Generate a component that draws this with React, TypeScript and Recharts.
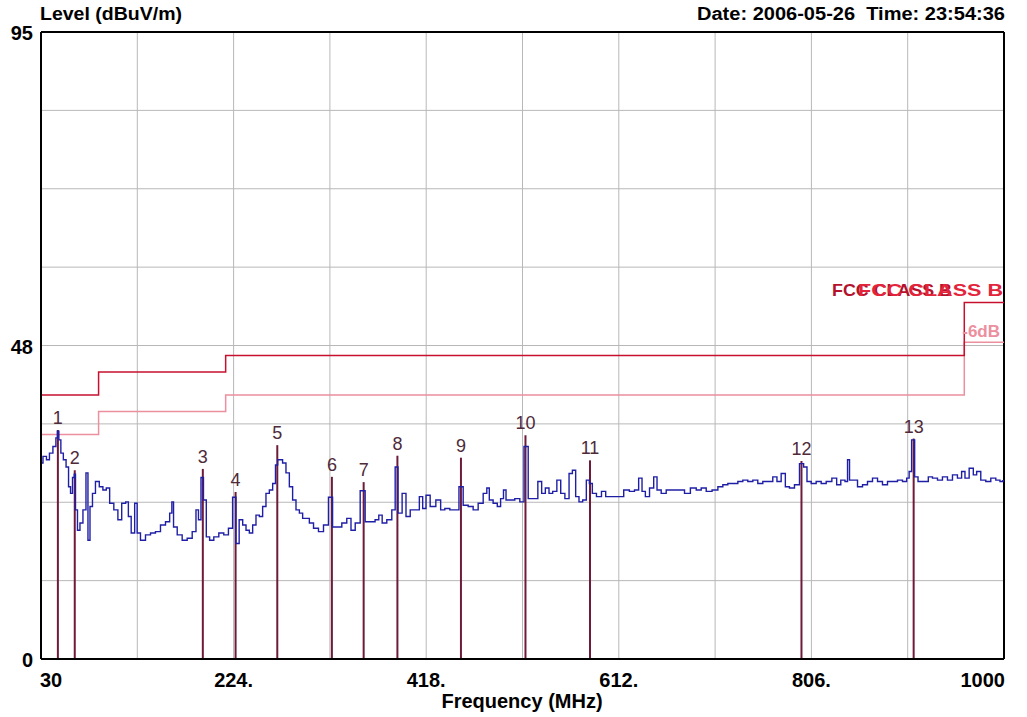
import React from 'react';
import { LineChart, Line, XAxis, YAxis, CartesianGrid, ReferenceLine, ReferenceDot } from 'recharts';

// scan trace (MHz / dBuV/m)
const traceFreq = [
  30, 34, 37, 40, 44, 46, 47, 49, 51, 54, 56.5, 59, 60.5, 63, 64, 65.5, 68, 70.5, 74, 76.6,
  78, 80.7, 83, 86.7, 90.7, 94, 97.5, 100.8, 105.9, 109, 113.6, 117, 119, 122.7, 126, 127.7,
  132.7, 137.8, 142.8, 147.8, 152.9, 157.9, 161.3, 162.3, 164.7, 169.7, 174.7, 179.8, 184.8,
  187.4, 189.8, 192.5, 194.8, 198.2, 201.5, 206.6, 211.6, 216.6, 221, 225, 227.7, 231.5,
  234.8, 238.2, 241.5, 244.9, 248.2, 251.6, 254.9, 258.3, 261.7, 265, 267.4, 269.4, 271.7,
  275, 278.5, 281.8, 285.1, 288.6, 291.9, 295.2, 298.6, 302, 307, 312, 317.1, 322, 325.4,
  330.5, 335.5, 340.5, 344, 349, 354, 359, 364, 369, 371.5, 375.8, 380.8, 385.9, 387.6,
  391.6, 395.9, 399.4, 404.4, 409.4, 412.8, 416.1, 419.5, 424.5, 430.9, 434.2, 439.3, 444.3,
  449.3, 452.7, 457.8, 462.8, 467.8, 472.9, 477.9, 480.2, 482.9, 487.9, 491.3, 494.6, 497.1,
  499.7, 504.7, 509.8, 514.8, 518.2, 523.3, 528.3, 532.6, 536, 540, 543.4, 547.4, 551.8,
  555.2, 560.2, 563.6, 566.9, 570.2, 573.6, 577.6, 581, 583.7, 587, 592, 597.1, 600.5, 607.2,
  613.9, 620, 625.3, 630.3, 633.7, 637.1, 640.4, 645.5, 648.8, 652.2, 657.2, 662.3, 668.9,
  675.7, 680.7, 687.5, 692.5, 697.5, 702.6, 709.3, 714.3, 719.3, 724.3, 729.4, 734.4, 739.4,
  744.5, 749.5, 754.5, 759.6, 764.6, 769.6, 773, 778.1, 781.4, 786.4, 791.5, 796.5, 799.8,
  803.3, 808.3, 813.3, 818.4, 823.4, 829.8, 833.1, 838.1, 841.6, 843.2, 845.6, 849.9, 855,
  860, 865, 870.1, 875.1, 880.1, 885.2, 890.2, 895.2, 900.3, 903.6, 905.3, 908.6, 911.4,
  915.4, 922.1, 925.4, 930.5, 935.5, 940.5, 945.6, 950.6, 955.6, 959, 962.4, 967.4, 970.8,
  974.1, 979.1, 984.2, 989.2, 994.3, 997.6, 1000,
];
const traceLevel = [
  29.7, 30.7, 30.2, 31.2, 32.2, 33.5, 34.5, 33.2, 31.2, 30.2, 29.1, 26.1, 25.1, 27.5, 28.0, 22.6, 19.5, 20.6, 22.6, 28.2,
  18.0, 23.1, 25.1, 26.9, 26.1, 25.6, 25.9, 23.6, 22.6, 21.1, 23.6, 23.8, 21.6, 19.1, 23.6, 19.1,
  18.0, 18.8, 19.1, 19.3, 20.3, 20.8, 22.1, 23.8, 20.0, 18.8, 18.0, 18.3, 19.3,
  22.6, 21.1, 27.5, 24.1, 18.5, 18.0, 18.5, 19.1, 18.8, 19.8, 24.5, 17.5, 21.1,
  20.3, 19.5, 19.1, 20.3, 21.8, 21.6, 23.1, 25.1, 25.6, 26.6, 29.4, 30.2, 30.2,
  29.7, 28.2, 26.1, 24.1, 22.6, 22.1, 21.3, 21.3, 20.6, 19.8, 19.3, 20.3, 24.5, 20.0,
  20.0, 20.6, 21.3, 19.5, 20.6, 25.5, 20.8, 20.8, 21.1, 21.8, 20.6, 21.1, 22.6, 29.1,
  22.1, 25.1, 21.6, 22.6, 22.6, 24.6, 22.8, 24.8, 23.1, 24.1, 22.6, 22.8, 22.6,
  22.6, 26.1, 23.3, 23.1, 22.6, 23.6, 25.1, 25.9, 24.1, 23.6, 23.1, 24.3, 25.6,
  24.1, 24.1, 24.3, 23.8, 32.2, 24.3, 24.3, 26.9, 25.1, 25.9, 25.1, 25.4, 27.1,
  25.1, 24.3, 28.1, 28.6, 24.6, 23.8, 24.1, 27.1, 26.6, 25.1, 24.6, 25.4, 24.6, 24.6,
  24.6, 25.6, 25.4, 25.6, 27.4, 25.4, 24.6, 25.9, 27.6, 25.6, 25.1, 25.6, 25.6,
  25.6, 25.1, 25.9, 25.6, 25.9, 25.4, 25.6, 26.1, 26.4, 26.6, 26.6, 26.9, 27.1,
  26.9, 27.1, 26.6, 26.9, 26.9, 27.6, 26.9, 28.1, 26.1, 25.9, 26.4, 29.6, 29.1,
  26.9, 26.6, 26.9, 26.6, 26.9, 27.4, 26.4, 27.1, 26.9, 30.2, 27.1, 27.1, 26.1,
  26.4, 26.9, 27.4, 26.9, 26.4, 26.9, 26.9, 27.1, 26.9, 27.4, 28.4, 33.2, 27.6,
  26.9, 26.9, 27.6, 27.4, 27.1, 27.6, 27.1, 27.9, 27.4, 28.4, 27.4, 28.9, 27.9,
  28.4, 27.1, 26.9, 27.4, 27.1, 26.9, 27.0,
];

// FCC class B limit and the -6 dB margin line (step after each breakpoint)
const limitFreq = [30, 88, 216, 960, 1000];
const limitLevel = [40, 43.5, 46, 54, 54];
const marginLevel = [34, 37.5, 40, 48, 48];

// peak markers
const markerFreq = [47, 64, 193, 226, 268, 323, 355, 389, 453, 518, 583, 796, 909];
const markerLevel = [34.7, 28.6, 28.8, 25.3, 32.4, 27.6, 26.8, 30.8, 30.5, 33.9, 30.1, 30.0, 33.4];

const ticksX = [30, 127, 224, 321, 418, 515, 612, 709, 806, 903, 1000];
const tickLabelsX = ['30', '', '224.', '', '418.', '', '612.', '', '806.', '', '1000'];
const ticksY = [0, 11.875, 23.75, 35.625, 47.5, 59.375, 71.25, 83.125, 95];
const tickLabelsY = ['0', '', '', '', '48', '', '', '', '95'];

const narrow = '"Liberation Sans Narrow", "Arial Narrow", "Liberation Sans", Arial, sans-serif';
const sans = '"Liberation Sans", Arial, sans-serif';

const traceData = traceFreq.map((f, i) => ({ f, v: traceLevel[i] }));
const limitData = limitFreq.map((f, i) => ({ f, v: limitLevel[i] }));
const marginData = limitFreq.map((f, i) => ({ f, v: marginLevel[i] }));

const XTick = (props: any) => {
  const { x, y, index } = props;
  const label = tickLabelsX[index];
  if (!label) return <g />;
  const anchor = index === 0 ? 'start' : index === ticksX.length - 1 ? 'end' : 'middle';
  return (
    <text x={index === 0 ? x - 1 : x + (index === ticksX.length - 1 ? 1 : 0)} y={y + 20} textAnchor={anchor} fontFamily={narrow} fontWeight="bold" fontSize={20} fill="#000">
      {label}
    </text>
  );
};

const YTick = (props: any) => {
  const { y, index } = props;
  const label = tickLabelsY[index];
  if (!label) return <g />;
  return (
    <text x={33} y={y + 8} textAnchor="end" fontFamily={narrow} fontWeight="bold" fontSize={20} fill="#000">
      {label}
    </text>
  );
};

export default function App() {
  return (
    <div style={{ position: 'absolute', left: 0, top: 0, width: 1027, height: 717, background: '#fff' }}>
      <LineChart width={1027} height={717} margin={{ top: 32, right: 23, left: 0, bottom: 0 }}>
        <CartesianGrid stroke="#b8b8b8" strokeWidth={1} horizontalValues={ticksY} verticalValues={ticksX} />
        <XAxis
          dataKey="f"
          type="number"
          domain={[30, 1000]}
          ticks={ticksX}
          interval={0}
          tick={<XTick />}
          tickLine={false}
          height={58}
          stroke="#000"
          strokeWidth={2}
          allowDataOverflow
        />
        <YAxis
          type="number"
          domain={[0, 95]}
          ticks={ticksY}
          interval={0}
          tick={<YTick />}
          tickLine={false}
          width={41}
          stroke="#000"
          strokeWidth={2}
          allowDataOverflow
        />
        <ReferenceLine y={95} stroke="#000" strokeWidth={2} />
        <ReferenceLine x={1000} stroke="#000" strokeWidth={2} />
        <Line data={marginData} dataKey="v" type="stepAfter" stroke="#ec8f9e" strokeWidth={1.5} dot={false} isAnimationActive={false} />
        <Line data={limitData} dataKey="v" type="stepAfter" stroke="#c8102e" strokeWidth={1.5} dot={false} isAnimationActive={false} />
        {markerFreq.map((f, i) => (
          <ReferenceLine
            key={`m${i}`}
            segment={[{ x: f, y: 0 }, { x: f, y: markerLevel[i] }]}
            stroke="#6e1a3a"
            strokeWidth={2}
          />
        ))}
        <Line data={traceData} dataKey="v" type="step" stroke="#1f1fa6" strokeWidth={1.4} dot={false} isAnimationActive={false} />
        {markerFreq.map((f, i) => (
          <ReferenceDot
            key={`l${i}`}
            x={f}
            y={markerLevel[i]}
            r={0}
            fill="none"
            stroke="none"
            label={{ value: String(i + 1), position: 'top', offset: 6, fill: '#4e2a3a', fontSize: 18, fontFamily: sans }}
          />
        ))}
      </LineChart>
      <svg width={1027} height={717} style={{ position: 'absolute', left: 0, top: 0, pointerEvents: 'none' }}>
        <text x={40} y={20} fontFamily={sans} fontWeight="bold" fontSize={18} fill="#000" textLength={142} lengthAdjust="spacingAndGlyphs">
          Level (dBuV/m)
        </text>
        <text x={697} y={20} fontFamily={sans} fontWeight="bold" fontSize={18} fill="#000" textLength={308} lengthAdjust="spacingAndGlyphs" style={{ whiteSpace: 'pre' }}>
          {'Date: 2006-05-26  Time: 23:54:36'}
        </text>
        <text x={832} y={296} fontFamily={sans} fontWeight="bold" fontSize={17} fill="#b3122c" textLength={120} lengthAdjust="spacingAndGlyphs">FCC CLASS B</text>
        <text x={858} y={296} fontFamily={sans} fontWeight="bold" fontSize={17} fill="#e3253c" textLength={145} lengthAdjust="spacingAndGlyphs">FCC CLASS B</text>
        <text x={1000} y={337} textAnchor="end" fontFamily={sans} fontWeight="bold" fontSize={17} fill="#ec8f9e">-6dB</text>
        <text x={522} y={708} textAnchor="middle" fontFamily={narrow} fontWeight="bold" fontSize={20} fill="#000">Frequency (MHz)</text>
      </svg>
    </div>
  );
}
